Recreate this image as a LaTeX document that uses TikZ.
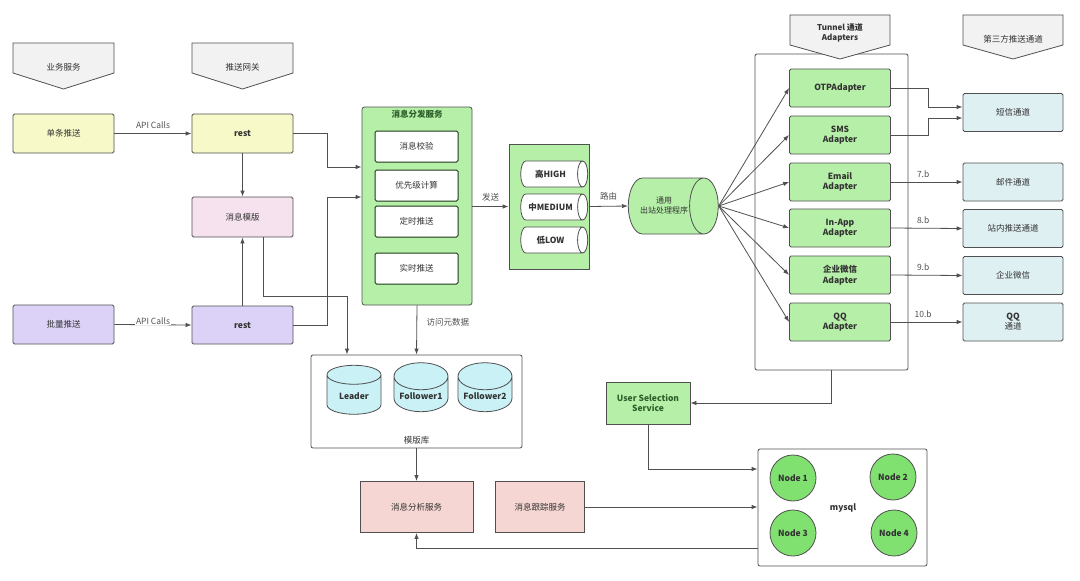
\documentclass[tikz,border=0pt]{standalone}
\usepackage{fontspec}
\setmainfont{Noto Sans CJK SC}
\usetikzlibrary{shapes.geometric,arrows.meta,calc}
\definecolor{cyel}{HTML}{F7FAC8}
\definecolor{cpink}{HTML}{F5E2EE}
\definecolor{cpur}{HTML}{DCD2F7}
\definecolor{cgreen}{HTML}{B6F0A8}
\definecolor{cdb}{HTML}{C9F1F6}
\definecolor{csalmon}{HTML}{F5D6D2}
\definecolor{cblue}{HTML}{DFF0F3}
\definecolor{cnode}{HTML}{80E070}
\definecolor{chead}{HTML}{F2F2F2}
\definecolor{cline}{HTML}{505050}
\definecolor{ctext}{HTML}{333333}
\definecolor{cdgreen}{HTML}{2E5E2A}
\begin{document}
\begin{tikzpicture}[x=1pt,y=-1pt,
  every node/.style={font=\fontsize{8.5}{10.5}\selectfont, text=ctext},
  box/.style={draw=cline, line width=0.8pt, rounded corners=1.5pt, align=center, inner sep=1pt},
  inbox/.style={box, fill=white, minimum width=83pt, minimum height=31pt, line width=1pt, draw=cdgreen!60!black},
  adap/.style={box, fill=cgreen, minimum width=101pt, minimum height=38pt, font=\fontsize{8.5}{10.5}\selectfont\bfseries},
  chan/.style={box, fill=cblue, minimum width=100pt, minimum height=38pt},
  cont/.style={draw=cline, line width=0.8pt, rounded corners=2pt, fill=white, inner sep=0pt},
  arr/.style={draw=cline, line width=0.8pt, -{Latex[length=6pt,width=4.5pt]}},
  lbl/.style={font=\fontsize{8.5}{10}\selectfont, text=ctext!85},
  head/.style={draw=cline, line width=0.8pt, fill=chead},
  hcyl/.style={cylinder, shape border rotate=0, draw=cline, line width=0.8pt, aspect=1.0, inner sep=1pt, font=\fontsize{8.5}{10.5}\selectfont\bfseries},
  vcyl/.style={cylinder, shape border rotate=90, draw=cline, line width=0.8pt, fill=cdb, aspect=0.6, inner sep=1pt, minimum height=49pt, minimum width=54pt, font=\fontsize{8.5}{10.5}\selectfont\bfseries},
  circ/.style={circle, draw=cline, line width=0.8pt, fill=cnode, minimum size=46pt, inner sep=0pt, font=\fontsize{8.5}{10.5}\selectfont\bfseries}
]
\useasboundingbox (0,0) rectangle (1080,581);
\fill[white] (0,0) rectangle (1080,581);

% headers
\draw[head] (13,43) -- (114,43) -- (114,73) -- (63.5,89) -- (13,73) -- cycle;
\node (h1) at (63.5,67) {业务服务};
\draw[head] (192,43) -- (293,43) -- (293,73) -- (242.5,89) -- (192,73) -- cycle;
\node (h2) at (242.5,67) {推送网关};
\draw[head] (963,15) -- (1063,15) -- (1063,45) -- (1013,59) -- (963,45) -- cycle;
\node (h4) at (1013,39) {第三方推送通道};

% left column
\node[box, fill=cyel, minimum width=101pt, minimum height=39pt] (dan) at (63.5,133.5) {单条推送};
\node[box, fill=cyel, minimum width=101pt, minimum height=39pt, font=\fontsize{8.5}{10.5}\selectfont\bfseries] (rest1) at (242.5,133.5) {rest};
\node[box, fill=cpink, minimum width=101pt, minimum height=40pt] (tmpl) at (242.5,217) {消息模版};
\node[box, fill=cpur, minimum width=101pt, minimum height=39pt] (pl) at (63.5,324.5) {批量推送};
\node[box, fill=cpur, minimum width=101pt, minimum height=38pt, font=\fontsize{8.5}{10.5}\selectfont\bfseries] (rest2) at (242.5,325) {rest};

\draw[arr] (dan.east) -- node[lbl, above=1pt] {API Calls} (rest1.west);
\draw[arr] (pl.east) -- node[lbl, fill=white, inner sep=1pt, yshift=4pt] {API Calls} (rest2.west);
\draw[arr] (rest1.south) -- (tmpl.north);
\draw[arr] (rest2.north) -- (tmpl.south);

% dispatch service
\node[box, fill=cgreen, minimum width=110pt, minimum height=198pt, rounded corners=2.5pt] (dist) at (417,206) {};
\node[font=\fontsize{8.5}{10.5}\selectfont\bfseries, text=cdgreen] (distt) at (417,114) {消息分发服务};
\node[inbox] (c1) at (416.5,146.5) {消息校验};
\node[inbox] (c2) at (416.5,185.5) {优先级计算};
\node[inbox] (c3) at (416.5,221.5) {定时推送};
\node[inbox] (c4) at (416.5,268.5) {实时推送};

\draw[arr] (rest1.east) -- (327,133.5) |- ([yshift=39pt]dist.west);
\draw[arr] (rest2.east) -- (327,325) |- ([yshift=9pt]dist.west);

% template db
\node[cont, minimum width=211pt, minimum height=93pt] (ku) at (416.5,401.5) {};
\node (kut) at (416.5,440) {模版库};
\node[vcyl] (db1) at (354,396) {Leader};
\node[vcyl] (db2) at (421,396) {Follower1};
\node[vcyl] (db3) at (485,396) {Follower2};

\draw[arr] ([xshift=20.5pt]tmpl.south) -- ++(0,59) -| ([xshift=-69.5pt]ku.north);
\draw[arr] (dist.south) -- node[lbl, right=6pt, pos=0.35] {访问元数据} (ku.north);

% priority queues
\node[box, fill=cgreen, minimum width=80pt, minimum height=125pt, rounded corners=0pt] (prio) at (549,206.5) {};
\node[hcyl, fill=white, minimum width=26pt, minimum height=67pt] (q1) at (550.5,174) {高HIGH};
\node[hcyl, fill=white, minimum width=26pt, minimum height=67pt] (q2) at (550.5,207) {中MEDIUM};
\node[hcyl, fill=white, minimum width=26pt, minimum height=67pt] (q3) at (550.5,240) {低LOW};
\draw[arr] (dist.east |- prio.west) -- node[lbl, above=2pt] {发送} (prio.west);

% outbound
\node[hcyl, fill=cgreen, aspect=1.5, minimum width=56pt, minimum height=90pt, align=center, font=\fontsize{8}{10}\selectfont] (out) at (664,206) {通用\\出站处理程序};
\draw[arr] (prio.east) -- node[lbl, above=2pt] {路由} (out.west);

% tunnel container
\node[cont, minimum width=153pt, minimum height=316pt] (tun) at (831.5,212) {};
\draw[head] (790,15) -- (890,15) -- (890,45) -- (840,59) -- (790,45) -- cycle;
\node[align=center, font=\fontsize{8}{9.5}\selectfont\bfseries] (h3) at (840,33) {Tunnel 通道\\Adapters};

\node[adap] (a1) at (840,88) {OTPAdapter};
\node[adap] (a2) at (840,135) {SMS\\Adapter};
\node[adap] (a3) at (840,182) {Email\\Adapter};
\node[adap] (a4) at (840,228) {In-App\\Adapter};
\node[adap] (a5) at (840,275) {企业微信\\Adapter};
\node[adap] (a6) at (840,322) {QQ\\Adapter};
\foreach \a in {a1,a2,a3,a4,a5,a6} \draw[arr] (out.east) -- (\a.west);

% channels
\node[chan] (ch1) at (1013,112.5) {短信通道};
\node[chan] (ch2) at (1013,182) {邮件通道};
\node[chan] (ch3) at (1013,228.5) {站内推送通道};
\node[chan] (ch4) at (1013,275.5) {企业微信};
\node[chan, align=center, font=\fontsize{8.5}{10}\selectfont] (ch5) at (1013,322) {\textbf{QQ}\\通道};

\draw[arr] (a1.east) -- (928,88) |- ([yshift=5.5pt]ch1.west);
\draw[arr] (a2.east) -- (928,135) |- ([yshift=-5.5pt]ch1.west);
\draw[arr] (a3.east) -- node[lbl, above=1pt, pos=0.45] {7.b} (ch2.west);
\draw[arr] (a4.east) -- node[lbl, above=1pt, pos=0.45] {8.b} (ch3.west);
\draw[arr] (a5.east) -- node[lbl, above=1pt, pos=0.45] {9.b} (ch4.west);
\draw[arr] (a6.east) -- node[lbl, above=1pt, pos=0.45] {10.b} (ch5.west);

% user selection
\node[box, fill=cgreen, minimum width=84pt, minimum height=42pt, rounded corners=0pt, font=\fontsize{8.5}{10.5}\selectfont\bfseries, text=cdgreen] (us) at (648,403) {User Selection\\Service};
\draw[arr] (tun.south) |- (us.east);

% mysql
\node[cont, minimum width=169pt, minimum height=117pt] (my) at (842.5,507.5) {};
\node[font=\fontsize{8.5}{10.5}\selectfont\bfseries] (myt) at (843,508) {mysql};
\node[circ] (n1) at (793,478) {Node 1};
\node[circ] (n2) at (893,477) {Node 2};
\node[circ] (n3) at (793,533) {Node 3};
\node[circ] (n4) at (894,533) {Node 4};

% analysis & tracking
\node[box, fill=csalmon, minimum width=113pt, minimum height=51pt, rounded corners=0pt] (ana) at (416.5,507) {消息分析服务};
\node[box, fill=csalmon, minimum width=89pt, minimum height=51pt, rounded corners=0pt] (trk) at (540,507) {消息跟踪服务};

\draw[arr] (us.south) |- ([yshift=38.5pt]my.west);
\draw[arr] (trk.east) -- (trk.east -| my.west);
\draw[arr] ([yshift=-40.5pt]my.west) -| (ana.south);
\draw[arr] (ku.south) -- (ana.north);
\end{tikzpicture}
\end{document}
